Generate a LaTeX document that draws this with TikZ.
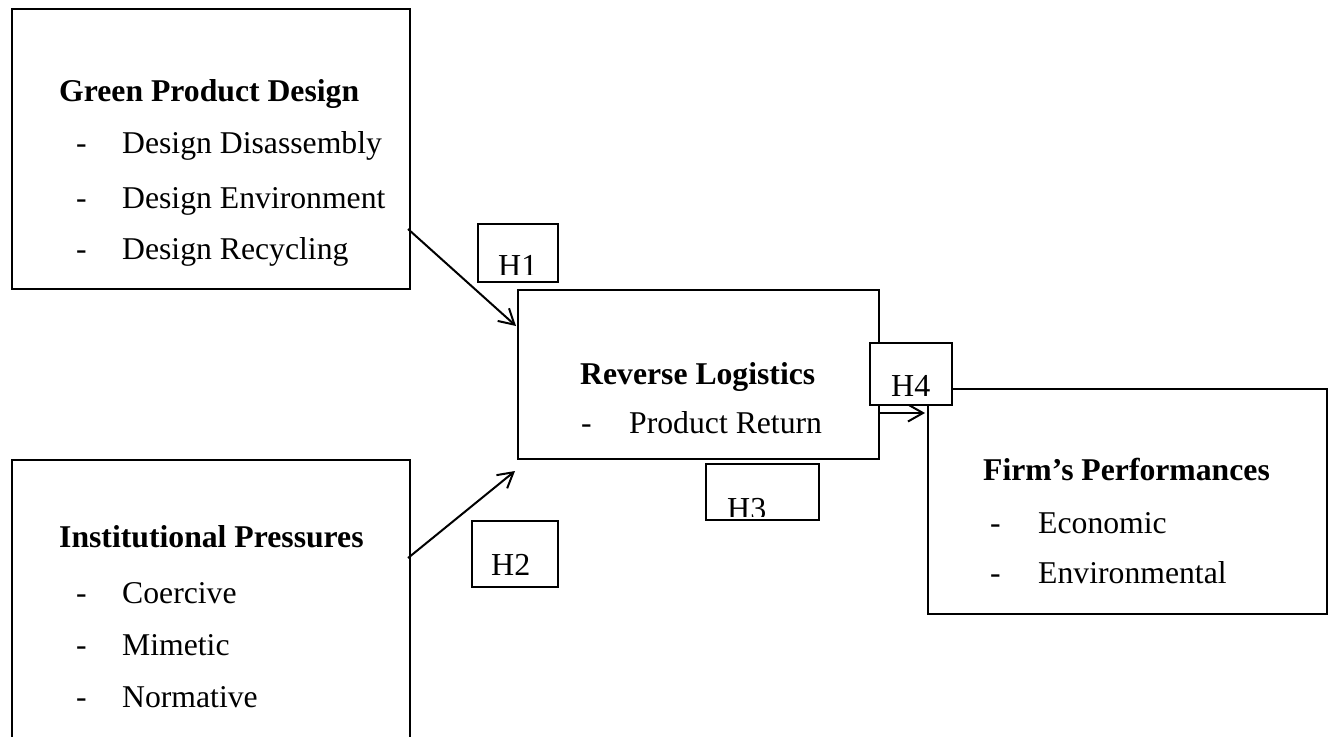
\documentclass[tikz,border=0pt]{standalone}
\usepackage{fontspec}
\setmainfont{Liberation Serif}
\usetikzlibrary{arrows.meta}
\begin{document}
\begin{tikzpicture}[x=1pt,y=-1pt,line join=miter,>={Straight Barb[length=15pt,width=17pt]}]
\tikzset{
  box/.style={line width=2pt},
  hbox/.style={line width=2pt,fill=white},
  lbl/.style={anchor=base west,inner sep=0pt,font=\fontsize{31.7}{38}\selectfont},
  ttl/.style={anchor=base west,inner sep=0pt,font=\fontsize{31.7}{38}\selectfont\bfseries},
  hyp/.style={anchor=base west,inner sep=0pt,font=\fontsize{32}{38}\selectfont},
  link/.style={->,line width=2pt}
}
\useasboundingbox (0,0) rectangle (1329,736);
\clip (0,0) rectangle (1329,736);
% construct boxes
\coordinate (GA) at (12,9);
\coordinate (GB) at (410,289);
\draw[box] (GA) rectangle (GB);
\coordinate (IA) at (12,460);
\coordinate (IB) at (410,760);
\draw[box] (IA) rectangle (IB);
\coordinate (RA) at (518,290);
\coordinate (RB) at (879,459);
\draw[box] (RA) rectangle (RB);
\coordinate (FA) at (928,389);
\coordinate (FB) at (1327,614);
\draw[box] (FA) rectangle (FB);
% texts
\node[ttl] (gpd) at (59,101) {Green Product Design};
\foreach \t/\y [count=\i] in {Design Disassembly/153,Design Environment/208,Design Recycling/259}
  {\node[lbl] (gd\i) at (76,\y) {-};
   \node[lbl] (gt\i) at (122,\y) {\t};}
\node[ttl] (ip) at (59,547) {Institutional Pressures};
\foreach \t/\y [count=\i] in {Coercive/603,Mimetic/655,Normative/707}
  {\node[lbl] (id\i) at (76,\y) {-};
   \node[lbl] (it\i) at (122,\y) {\t};}
\node[ttl] (rl) at (580,384) {Reverse Logistics};
\node[lbl] (rd1) at (581,433) {-};
\node[lbl] (rt1) at (629,433) {Product Return};
\node[ttl] (fp) at (983,480) {Firm’s Performances};
\foreach \t/\y [count=\i] in {Economic/533,Environmental/583}
  {\node[lbl] (fd\i) at (990,\y) {-};
   \node[lbl] (ft\i) at (1038,\y) {\t};}
% hypotheses
\coordinate (h1s) at (408,229);
\coordinate (h1e) at (516,326);
\draw[link] (h1s) -- (h1e);
\coordinate (h2s) at (408,558);
\coordinate (h2e) at (515,471);
\draw[link] (h2s) -- (h2e);
\coordinate (h4s) at (879,413);
\coordinate (h4e) at (925,413);
\draw[link] (h4s) -- (h4e);
\draw[hbox] (478,224) rectangle (558,282);
\begin{scope}
  \clip (478,224) rectangle (558,274);
  \node[hyp] (h1) at (498,276) {H1};
\end{scope}
\draw[hbox] (472,521) rectangle (558,587);
\node[hyp] (h2) at (491,575) {H2};
\draw[hbox] (706,464) rectangle (819,520);
\begin{scope}
  \clip (706,464) rectangle (819,516);
  \node[hyp] (h3) at (727,519) {H3};
\end{scope}
\draw[hbox] (870,343) rectangle (952,405);
\node[hyp] (h4) at (891,396) {H4};
\end{tikzpicture}
\end{document}
